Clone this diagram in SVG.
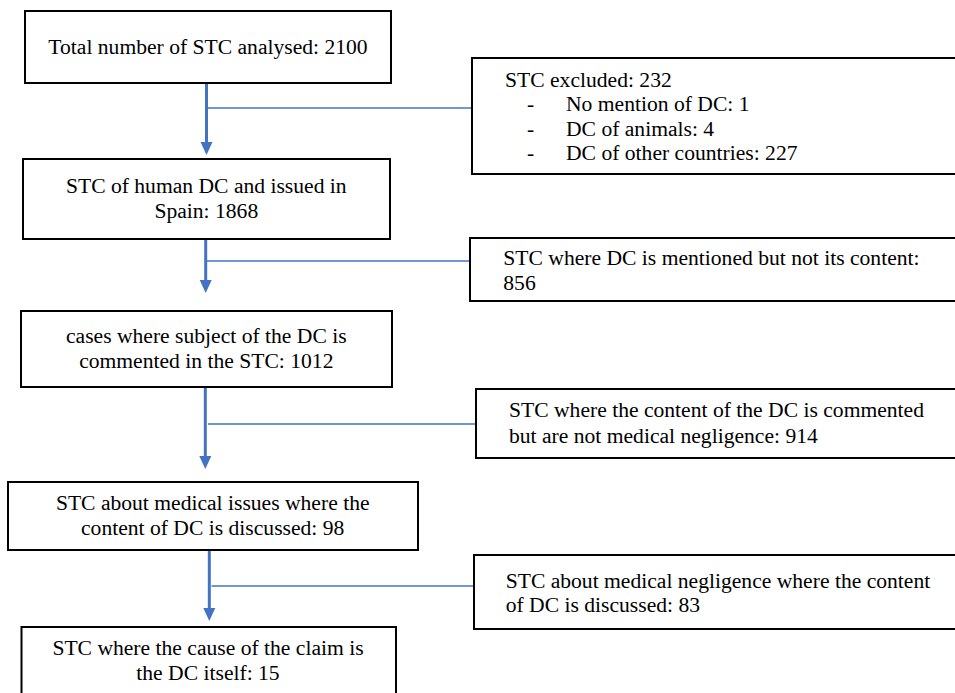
<svg xmlns="http://www.w3.org/2000/svg" width="955" height="693" viewBox="0 0 955 693">
<style>
.box{fill:#fff;stroke:#000;stroke-width:2}
text{font-family:"Liberation Serif","Times New Roman",serif;font-size:21.6px;fill:#000}
.c{text-anchor:middle}
.main{stroke:#4472C4;stroke-width:3;fill:none}
.br{stroke:#4472C4;stroke-width:1.6;fill:none}
.head{fill:#4472C4}
</style>
<rect width="955" height="693" fill="#fff"/>
<g id="connectors">
<line class="main" x1="206.5" y1="83" x2="206.5" y2="142"/>
<polygon class="head" points="200.5,142 212.5,142 206.5,155"/>
<line class="br" x1="206.5" y1="108" x2="472" y2="108"/>
<line class="main" x1="205.7" y1="240" x2="205.7" y2="280"/>
<polygon class="head" points="199.7,280 211.7,280 205.7,293"/>
<line class="br" x1="205.7" y1="261" x2="470" y2="261"/>
<line class="main" x1="205.3" y1="387" x2="205.3" y2="456"/>
<polygon class="head" points="199.3,456 211.3,456 205.3,469"/>
<line class="br" x1="208" y1="424" x2="476" y2="424"/>
<line class="main" x1="209.3" y1="550" x2="209.3" y2="608"/>
<polygon class="head" points="203.3,608 215.3,608 209.3,621"/>
<line class="br" x1="211.5" y1="586" x2="474" y2="586"/>
</g>
<g id="n1">
<rect class="box" x="25" y="11" width="366" height="72"/>
<text class="c" x="208" y="54">Total number of STC analysed: 2100</text>
</g>
<g id="n2">
<rect class="box" x="23" y="159" width="367" height="80"/>
<text class="c" x="206.3" y="193">STC of human DC and issued in</text>
<text class="c" x="206.3" y="218">Spain: 1868</text>
</g>
<g id="n3">
<rect class="box" x="21" y="311" width="371" height="76"/>
<text class="c" x="206.3" y="343">cases where subject of the DC is</text>
<text class="c" x="206.3" y="368">commented in the STC: 1012</text>
</g>
<g id="n4">
<rect class="box" x="8" y="482" width="410" height="68"/>
<text class="c" x="212.7" y="510">STC about medical issues where the</text>
<text class="c" x="212.7" y="535">content of DC is discussed: 98</text>
</g>
<g id="n5">
<rect class="box" x="21.5" y="627" width="374.5" height="80"/>
<text class="c" x="208" y="655">STC where the cause of the claim is</text>
<text class="c" x="208" y="680">the DC itself: 15</text>
</g>
<g id="r1">
<rect class="box" x="472" y="58" width="490" height="116"/>
<text x="505" y="86.5">STC excluded: 232</text>
<text x="527" y="111">-</text><text x="566" y="111">No mention of DC: 1</text>
<text x="527" y="135.5">-</text><text x="566" y="135.5">DC of animals: 4</text>
<text x="527" y="160">-</text><text x="566" y="160">DC of other countries: 227</text>
</g>
<g id="r2">
<rect class="box" x="470" y="238" width="490" height="63"/>
<text x="503.3" y="265">STC where DC is mentioned but not its content:</text>
<text x="503.3" y="290">856</text>
</g>
<g id="r3">
<rect class="box" x="476" y="389" width="490" height="69"/>
<text x="509" y="416.7">STC where the content of the DC is commented</text>
<text x="509" y="443">but are not medical negligence: 914</text>
</g>
<g id="r4">
<rect class="box" x="474" y="555" width="490" height="74"/>
<text x="505.7" y="588.3">STC about medical negligence where the content</text>
<text x="505.7" y="611.7">of DC is discussed: 83</text>
</g>
</svg>
